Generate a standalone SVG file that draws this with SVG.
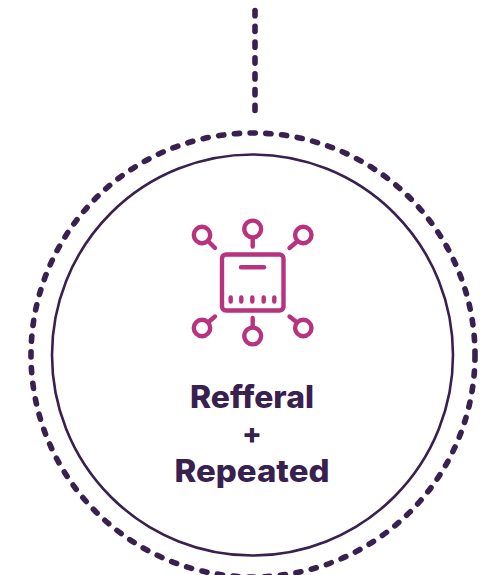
<svg xmlns="http://www.w3.org/2000/svg" width="494" height="575" viewBox="0 0 494 575">
<style>
.dash{fill:none;stroke:#38204f;stroke-width:5.6;stroke-linecap:round;stroke-dasharray:5.200 10.600}
.ln{fill:none;stroke:#38204f;stroke-width:2.6}
.ic{fill:none;stroke:#b8337f;stroke-width:4.4;stroke-linecap:round;stroke-linejoin:round}
.t{font-family:"Inter","Liberation Sans",sans-serif;font-weight:800;font-size:31px;fill:#38204f;text-anchor:middle}
</style>
<rect width="494" height="575" fill="#fff"/>
<g id="connectors">
<path class="dash" d="M255 10.500V115"/>
</g>
<g id="node-refferal-repeated">
<circle class="dash" cx="253" cy="355" r="222"/>
<circle class="ln" cx="252.500" cy="355" r="200.500"/>
<g id="icon">
<rect class="ic" x="222" y="254.500" width="61.500" height="56" rx="4"/>
<path class="ic" d="M241 267.300H264"/>
<path class="ic" d="M230.700 297.500v4M241.300 297.500v4M252.300 297.500v4M263.700 297.500v4M274.300 297.500v4"/>
<circle class="ic" cx="252.700" cy="229" r="8.400"/>
<path class="ic" d="M252.700 239V246.500"/>
<circle class="ic" cx="202" cy="235" r="8.200"/>
<path class="ic" d="M208.500 241.500L215 248"/>
<circle class="ic" cx="303.300" cy="235" r="8.200"/>
<path class="ic" d="M296.500 242L289.500 248"/>
<circle class="ic" cx="202" cy="328" r="8.200"/>
<path class="ic" d="M208.500 322L215 316.500"/>
<circle class="ic" cx="303.300" cy="328" r="8.200"/>
<path class="ic" d="M296.500 322L289.500 316.500"/>
<circle class="ic" cx="252.700" cy="336" r="8.400"/>
<path class="ic" d="M252.700 318V326"/>
</g>
<text class="t" x="252" y="407.500" textLength="124" lengthAdjust="spacingAndGlyphs">Refferal</text>
<text class="t" x="252" y="444" style="font-size:29px">+</text>
<text class="t" x="252" y="481.500" textLength="155" lengthAdjust="spacingAndGlyphs">Repeated</text>
</g>
</svg>
